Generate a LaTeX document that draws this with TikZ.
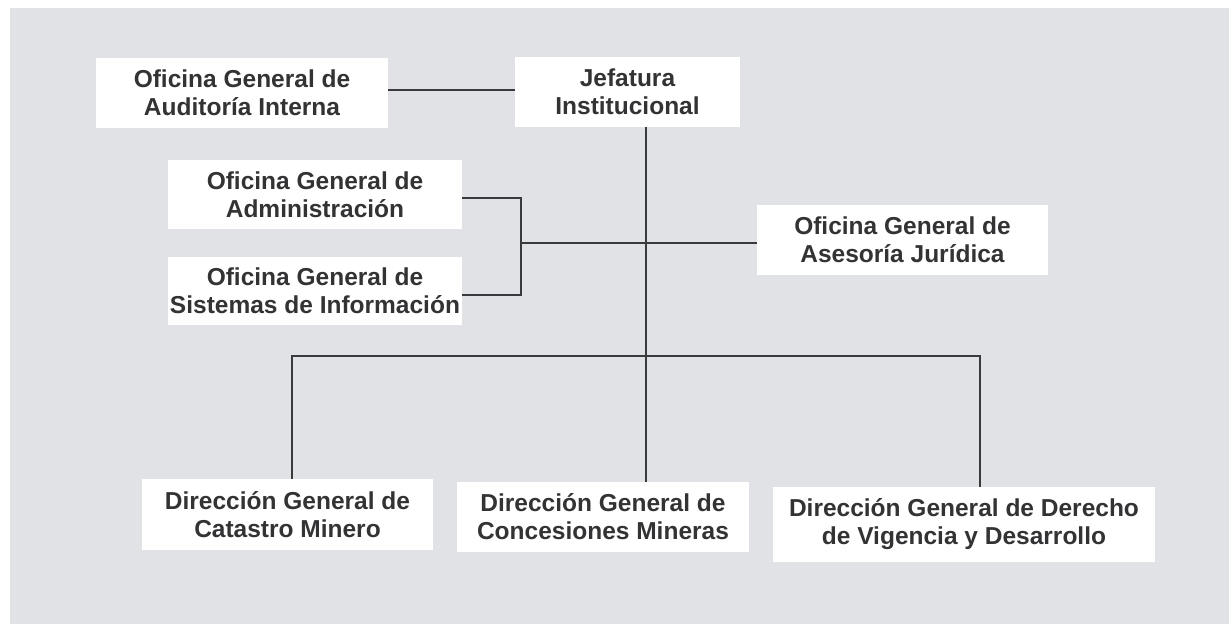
\documentclass[tikz,border=0pt]{standalone}
\usepackage{fontspec}
\setmainfont{Liberation Sans}
\definecolor{bg}{HTML}{E1E2E5}
\definecolor{ink}{HTML}{333335}
\definecolor{ln}{HTML}{3A3A3C}
\begin{document}
\begin{tikzpicture}[x=1pt,y=-1pt,
  box/.style={fill=white, draw=none, inner sep=0pt, align=center,
    text=ink, font=\fontsize{24.5}{28}\selectfont\bfseries},
  conn/.style={draw=ln, line width=2.7pt}]
\useasboundingbox (0,0) rectangle (1229,624);
\fill[white] (0,0) rectangle (1229,624);
\fill[bg] (10,8) rectangle (1229,624);

\node[box, minimum width=292pt, minimum height=70pt] (aud) at (242,93) {Oficina General de\\Auditoría Interna};
\node[box, minimum width=225pt, minimum height=70pt] (jef) at (627.5,92) {Jefatura\\Institucional};
\node[box, minimum width=294pt, minimum height=69pt] (adm) at (315,194.5) {Oficina General de\\Administración};
\node[box, minimum width=294pt, minimum height=68pt] (sis) at (315,291) {Oficina General de\\Sistemas de Información};
\node[box, minimum width=291pt, minimum height=70pt] (jur) at (902.5,240) {Oficina General de\\Asesoría Jurídica};
\node[box, minimum width=291pt, minimum height=71pt] (cat) at (287.5,514.5) {Dirección General de\\Catastro Minero};
\node[box, minimum width=292pt, minimum height=70pt] (con) at (603,517) {Dirección General de\\Concesiones Mineras};
\node[box, minimum width=382pt, minimum height=75pt] (der) at (964,524.5) {Dirección General de Derecho\\de Vigencia y Desarrollo};

\coordinate (top) at (450,90);
\coordinate (spine) at (646,356);
\coordinate (busL) at (292,356);
\coordinate (busR) at (980,356);
\coordinate (brk) at (521,243);
\coordinate (brkT) at (521,198);
\coordinate (brkB) at (521,295);

\draw[conn] (aud.east |- top) -- (jef.west |- top);
\draw[conn] (jef.south -| spine) -- (con.north -| spine);
\draw[conn] (adm.east |- brkT) -- (brkT) -- (brkB) -- (sis.east |- brkB);
\draw[conn] (brk) -- (spine |- brk);
\draw[conn] (spine |- brk) -- (jur.west |- brk);
\draw[conn] (cat.north -| busL) -- (busL) -- (busR) -- (der.north -| busR);
\end{tikzpicture}
\end{document}
